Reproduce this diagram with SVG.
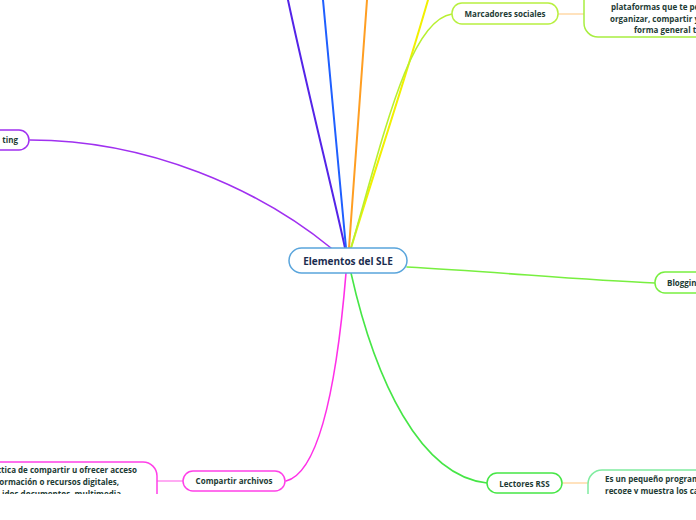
<svg xmlns="http://www.w3.org/2000/svg" width="696" height="520" viewBox="0 0 696 520">
<style>
.n{fill:#ffffff;stroke-width:1.5}
.t{font-family:"Open Sans","Liberation Sans",sans-serif;font-weight:700;font-size:8px;fill:#1d3b34}
.c{text-anchor:middle}
.e{text-anchor:end}
.b{fill:none;stroke-linecap:round}
</style>
<defs>
<clipPath id="view"><rect x="0" y="0" width="696" height="494"/></clipPath>
</defs>
<rect width="696" height="520" fill="#ffffff"/>
<g clip-path="url(#view)">
<g id="connectors">
<path class="b" d="M345,248 C336,205 305,80 288,0" stroke="#5424e8" stroke-width="2"/>
<path class="b" d="M346,248 L323,0" stroke="#1f5fff" stroke-width="2"/>
<path class="b" d="M349,248 L367,0" stroke="#ff9e22" stroke-width="2"/>
<path class="b" d="M351,248 C370,185 405,80 428,0" stroke="#f2f000" stroke-width="2"/>
<path class="b" d="M351,248 C385,130 410,20 452,14" stroke="#b8f030" stroke-width="1.6"/>
<path class="b" d="M331,248 C260,190 150,140 30,140" stroke="#a030f0" stroke-width="1.6"/>
<path class="b" d="M407,267 C500,272 580,280 655,283" stroke="#78ef40" stroke-width="1.6"/>
<path class="b" d="M351,273 C375,380 420,476 487,483" stroke="#46e646" stroke-width="1.6"/>
<path class="b" d="M346,273 C338,370 322,472 286,481" stroke="#ff30e8" stroke-width="1.6"/>
<path class="b" d="M558,14 L584,14" stroke="#ffd9a8" stroke-width="1.5"/>
<path class="b" d="M562,483 L588,483" stroke="#ffd9a8" stroke-width="1.5"/>
<path class="b" d="M157,481 L183,481" stroke="#ff90f0" stroke-width="1.5"/>
</g>
<g id="center">
<rect class="n" x="289" y="248" width="118" height="25" rx="12.5" stroke="#5aa5dc" fill="#fbfdff"/>
<text class="t c" x="348" y="264.5" style="font-size:10px;fill:#1b2d4f">Elementos del SLE</text>
</g>
<g id="marcadores">
<rect class="n" x="452" y="3" width="106" height="21" rx="10" stroke="#b8f040"/>
<text class="t c" x="505" y="17">Marcadores sociales</text>
</g>
<g id="marcadores-desc">
<rect class="n" x="584" y="-20" width="150" height="57" rx="14" stroke="#a8ee40"/>
<text class="t" x="611" y="10">plataformas que te pe</text>
<text class="t" x="610" y="21.5">organizar, compartir y</text>
<text class="t" x="634" y="33">forma general t</text>
</g>
<g id="ting">
<rect class="n" x="-30" y="130" width="59" height="20" rx="10" stroke="#a030f0"/>
<text class="t e" x="18" y="143">ting</text>
</g>
<g id="blogging">
<rect class="n" x="655" y="272" width="80" height="21" rx="10" stroke="#78ef40"/>
<text class="t" x="667" y="286">Bloggin</text>
</g>
<g id="lectores">
<rect class="n" x="487" y="473" width="75" height="20" rx="10" stroke="#46e646"/>
<text class="t c" x="524.5" y="486.5">Lectores RSS</text>
</g>
<g id="lectores-desc">
<rect class="n" x="588" y="470" width="150" height="40" rx="14" stroke="#80eca0"/>
<text class="t" x="605" y="482">Es un pequeño program</text>
<text class="t" x="605" y="493.5">recoge y muestra los ca</text>
</g>
<g id="compartir">
<rect class="n" x="183" y="471" width="102" height="20" rx="10" stroke="#ff40e8"/>
<text class="t c" x="234" y="484">Compartir archivos</text>
</g>
<g id="compartir-desc">
<rect class="n" x="-20" y="462" width="177" height="60" rx="14" stroke="#ff40e8"/>
<text class="t e" x="137" y="473">ctica de compartir u ofrecer acceso</text>
<text class="t e" x="119" y="485">ormación o recursos digitales,</text>
<text class="t e" x="121" y="497">idos documentos, multimedia</text>
</g>
</g>
</svg>
